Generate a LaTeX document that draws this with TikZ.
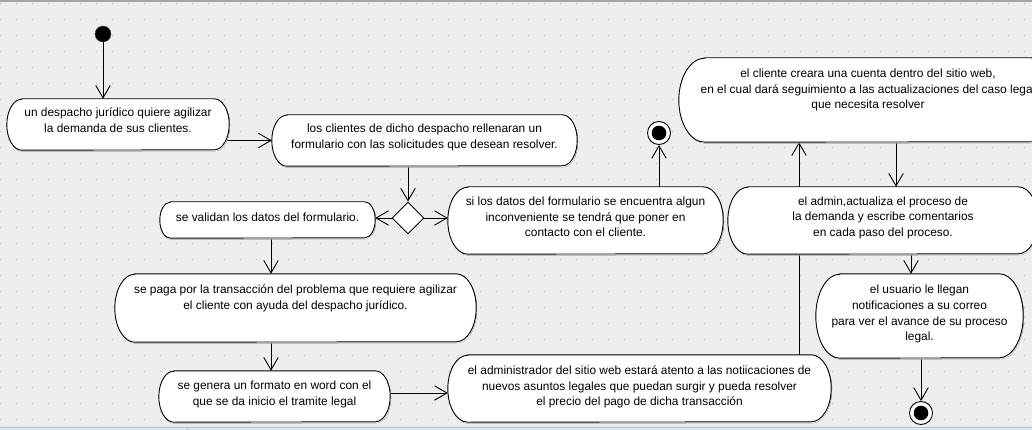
\documentclass[tikz,border=0pt]{standalone}
\usepackage{fontspec}
\setmainfont{Liberation Sans}
\usetikzlibrary{arrows.meta,shapes.geometric}
\pgfdeclarelayer{bg}\pgfdeclarelayer{edges}\pgfdeclarelayer{shapes}
\pgfsetlayers{bg,edges,shapes,main}
\definecolor{canvas}{RGB}{238,238,238}
\definecolor{gdot}{RGB}{192,192,192}
\definecolor{shade}{RGB}{120,120,120}
\definecolor{topline}{RGB}{165,165,165}
\definecolor{barline}{RGB}{170,190,214}
\definecolor{barfill}{RGB}{222,231,242}
\tikzset{
  actbox/.style={inner sep=0pt},
  acttext/.style={align=center, inner sep=0pt,
    font=\fontsize{11.9pt}{15.8pt}\selectfont},
  flow/.style={line width=0.9pt, -{Straight Barb[length=12.5pt,width=14.5pt]}},
  startnode/.style={circle, fill=black, draw=black!70, minimum size=16pt, inner sep=0pt},
  endnode/.style={circle, draw=black, fill=white, line width=0.9pt, minimum size=23pt, inner sep=0pt},
  decision/.style={diamond, draw=black, fill=white, line width=0.9pt, minimum width=32pt, minimum height=32pt, inner sep=0pt}
}
% stadium outline from the node's anchors: name, x radius, y radius, dx, dy
\newcommand\stpath[5]{([xshift=#2pt+#4pt,yshift=#5pt]#1.north west) -- ([xshift=-#2pt+#4pt,yshift=#5pt]#1.north east) arc[start angle=90,end angle=-90,x radius=#2pt,y radius=#3pt] -- ([xshift=#2pt+#4pt,yshift=#5pt]#1.south west) arc[start angle=270,end angle=90,x radius=#2pt,y radius=#3pt] -- cycle}
\newcommand\stadium[3]{%
  \begin{pgfonlayer}{shapes}
    \fill[shade] \stpath{#1}{#2}{#3}{0.8}{-1.3};
    \draw[line width=0.9pt, fill=white] \stpath{#1}{#2}{#3}{0}{0};
  \end{pgfonlayer}}
\begin{document}
\begin{tikzpicture}[x=1pt, y=-1pt]
\useasboundingbox (0,0) rectangle (1032,430);
\begin{pgfonlayer}{bg}
  \fill[canvas] (0,0) rectangle (1032,430);
  \foreach \i in {0,...,64} {
    \foreach \j in {0,...,26} {
      \fill[gdot] (\i*16, 3+\j*16) rectangle ++(1.3,1.3);
    }
  }
  \draw[topline, line width=1.6pt] (0,0.8) -- (1032,0.8);
  \fill[barfill] (0,427) rectangle (1032,430);
  \draw[barline, line width=0.8pt] (0,427) -- (1032,427);
  \draw[barline, line width=0.8pt] (187,427) -- (187,430);
\end{pgfonlayer}

% start and end states
\node[startnode] (s) at (103,34) {};
\node[endnode] (f1) at (659,133) {};
\fill (f1.center) circle[radius=7.3pt];
\node[endnode] (f2) at (921,413) {};
\fill (f2.center) circle[radius=7.3pt];
\node[decision] (dia) at (408,218) {};

% activities
\node[actbox, minimum width=222pt, minimum height=51pt,
  label={[acttext, yshift=3pt]center:{\strut un despacho jurídico quiere agilizar\\la demanda de sus clientes.\strut}}] (A) at (118,124.5) {};
\stadium{A}{15}{25.5}
\node[actbox, minimum width=305pt, minimum height=51pt,
  label={[acttext, yshift=3.5pt]center:{\strut los clientes de dicho despacho rellenaran un\\formulario con las solicitudes que desean resolver.\strut}}] (B) at (424.5,140.5) {};
\stadium{B}{15}{25.5}
\node[actbox, minimum width=215pt, minimum height=36pt,
  label={[acttext, yshift=2pt]center:{\strut se validan los datos del formulario.\strut}}] (C) at (267.5,220) {};
\stadium{C}{10.5}{18}
\node[actbox, minimum width=275pt, minimum height=67pt,
  label={[acttext, yshift=2.5pt]center:{\strut si los datos del formulario se encuentra algun\\inconveniente se tendrá que poner en\\contacto con el cliente.\strut}}] (D) at (585.5,220.5) {};
\stadium{D}{20}{33.5}
\node[actbox, minimum width=378pt, minimum height=84pt,
  label={[acttext, yshift=10pt]center:{\strut el cliente creara una cuenta dentro del sitio web,\\en el cual dará seguimiento a las actualizaciones del caso legal\\que necesita resolver\strut}}] (E) at (868,100) {};
\stadium{E}{26}{42}
\node[actbox, minimum width=310pt, minimum height=67pt,
  label={[acttext, yshift=2.8pt]center:{\strut el admin,actualiza el proceso de\\la demanda y escribe comentarios\\en cada paso del proceso.\strut}}] (F) at (883,220.5) {};
\stadium{F}{20}{33.5}
\node[actbox, minimum width=207pt, minimum height=84pt,
  label={[acttext, yshift=2pt]center:{\strut el usuario le llegan\\notificaciones a su correo\\para ver el avance de su proceso\\legal.\strut}}] (G) at (919.5,316) {};
\stadium{G}{24}{42}
\node[actbox, minimum width=361pt, minimum height=68pt,
  label={[acttext, yshift=9.5pt]center:{\strut se paga por la transacción del problema que requiere agilizar\\el cliente con ayuda del despacho jurídico.\strut}}] (P) at (295.5,308) {};
\stadium{P}{20}{34}
\node[actbox, minimum width=231pt, minimum height=51pt,
  label={[acttext, yshift=2pt]center:{\strut se genera un formato en word con el\\que se da inicio el tramite legal\strut}}] (I) at (274.5,396.5) {};
\stadium{I}{15}{25.5}
\node[actbox, minimum width=383pt, minimum height=67pt,
  label={[acttext, yshift=1.5pt]center:{\strut el administrador del sitio web estará atento a las notiicaciones de\\nuevos asuntos legales que puedan surgir y pueda resolver\\el precio del pago de dicha transacción\strut}}] (H) at (639.5,388.5) {};
\stadium{H}{20}{33.5}

% connector end points
\coordinate (cP) at ([xshift=3.5pt]C.center);
\coordinate (cI) at ([xshift=-24.5pt]P.center);
\coordinate (hin) at ([yshift=-4.5pt]H.west);
\coordinate (hE) at ([xshift=159.5pt]H.center);
\coordinate (eF) at ([xshift=13pt]F.north);
\coordinate (fG) at ([xshift=-8.5pt]G.north);

\begin{pgfonlayer}{edges}
  \draw[flow] (s) -- (s |- A.north);
  \draw[flow] (A.center |- B.west) -- (B.west);
  \draw[flow] (B.center -| dia.north) -- (dia.north);
  \draw[flow] (dia.west) -- (dia.west -| C.east);
  \draw[flow] (dia.east) -- (dia.east -| D.west);
  \draw[flow] (D.center -| f1.south) -- (f1.south);
  \draw[flow] (cP) -- (cP |- P.north);
  \draw[flow] (cI) -- (cI |- I.north);
  \draw[flow] (I.center |- hin) -- (hin);
  \draw[flow] (hE) -- (hE |- E.south);
  \draw[flow] (eF |- E.center) -- (eF);
  \draw[flow] (fG |- F.center) -- (fG);
  \draw[flow] (G.center -| f2.north) -- (f2.north);
\end{pgfonlayer}
\end{tikzpicture}
\end{document}
